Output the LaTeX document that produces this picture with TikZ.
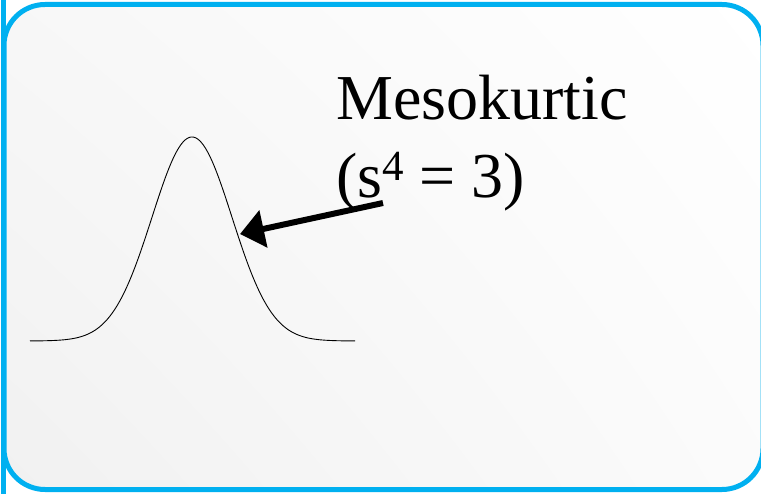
\documentclass[tikz,border=0pt]{standalone}
\usepackage{fontspec}
\setmainfont{Liberation Serif}
\usetikzlibrary{arrows.meta,shadings}
\definecolor{framecyan}{HTML}{00B0F0}
\newcommand{\supfour}{\raisebox{17pt}{\fontsize{43}{43}\selectfont 4}}
\begin{document}
\begin{tikzpicture}[x=1pt, y=-1pt, every node/.style={font=\fontsize{64}{76}\selectfont, inner sep=0pt}]
\useasboundingbox (0,0) rectangle (761,494);
% panel
\shade[rounded corners=41pt, upper left=gray!6, lower left=gray!11, upper right=white, lower right=gray!3] (4,4.5) rectangle (763,489.5);
\draw[framecyan, line width=5pt, rounded corners=41pt] (4,4.5) rectangle (763,489.5);
\draw[framecyan, line width=5pt] (3.5,0) -- (3.5,494);
% normal curve
\draw[black, line width=0.9pt] plot[domain=30:355, samples=160] (\x, {341 - 204*exp(-((\x-192)/40)^2/2)});
% label
\node[anchor=base west] (meso) at (336,120) {Mesokurtic};
\node[anchor=base west] (kurt) at (336,198) {(s\supfour{} = 3)};
\coordinate (armstart) at (383,203);
\coordinate (armtip) at (240,234);
\draw[line width=6pt, -{Triangle[length=24pt, width=37pt]}] (armstart) -- (armtip);
\end{tikzpicture}
\end{document}
